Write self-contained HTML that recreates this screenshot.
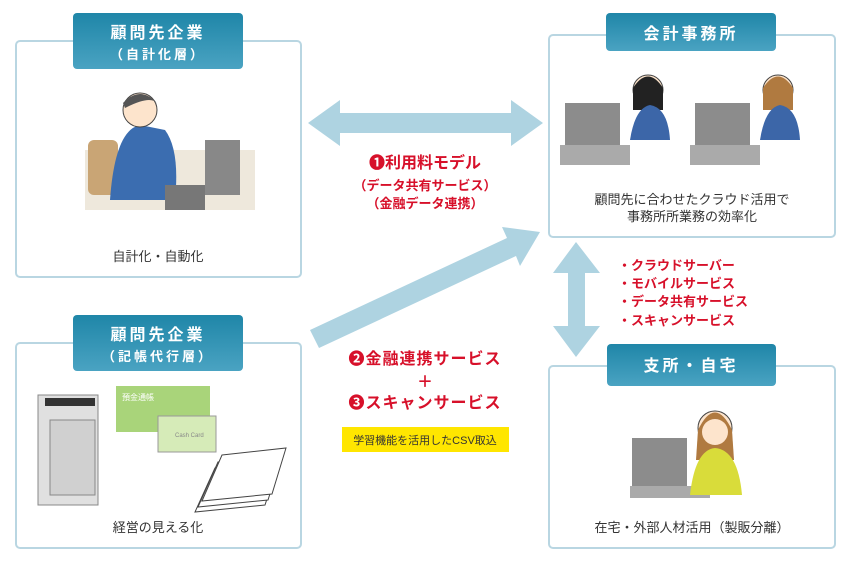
<!DOCTYPE html>
<html><head><meta charset="utf-8"><style>
body{margin:0;background:#fff;width:851px;height:561px;overflow:hidden;font-family:"Liberation Sans","Noto Sans CJK JP",sans-serif}
svg{display:block}
</style></head><body>
<svg width="851" height="561" viewBox="0 0 851 561" font-family="Liberation Sans, Noto Sans CJK JP, sans-serif">
<defs>
<linearGradient id="tab" x1="0" y1="0" x2="0" y2="1"><stop offset="0" stop-color="#1f86a8"/><stop offset="1" stop-color="#4aa3c2"/></linearGradient>
</defs>
<!-- boxes -->
<g fill="#fff" stroke="#b9d6e2" stroke-width="2">
<rect x="16" y="41" width="285" height="236" rx="4"/>
<rect x="549" y="35" width="286" height="202" rx="4"/>
<rect x="16" y="343" width="285" height="205" rx="4"/>
<rect x="549" y="366" width="286" height="182" rx="4"/>
</g>
<!-- arrows -->
<g fill="#aed3e1">
<polygon points="308,123 340,100 340,113 511,113 511,100 543,123 511,146 511,133 340,133 340,146"/>
<polygon points="553,273 576,242 600,273 585,273 585,326 600,326 576,357 553,326 568,326 568,273"/>
<polygon points="310,330 507,238 502,227 540,232 520,266 516,256 319,348"/>
</g>
<!-- tabs -->
<g>
<rect x="73" y="13" width="170" height="56" rx="4" fill="url(#tab)"/>
<rect x="606" y="13" width="170" height="38" rx="4" fill="url(#tab)"/>
<rect x="73" y="315" width="170" height="56" rx="4" fill="url(#tab)"/>
<rect x="607" y="344" width="169" height="42" rx="4" fill="url(#tab)"/>
</g>
<g fill="#fff" font-weight="bold" text-anchor="middle" letter-spacing="3">
<text x="158" y="38" font-size="16">顧問先企業</text>
<text x="158" y="59" font-size="13">（自計化層）</text>
<text x="691" y="39" font-size="16">会計事務所</text>
<text x="158" y="340" font-size="16">顧問先企業</text>
<text x="158" y="361" font-size="13">（記帳代行層）</text>
<text x="691" y="371" font-size="16">支所・自宅</text>
</g>
<!-- illustrations (simplified) -->
<g>
<rect x="85" y="150" width="170" height="60" fill="#eee8dc"/>
<rect x="88" y="140" width="30" height="55" rx="6" fill="#c9a575"/>
<path d="M110 200 Q115 130 140 125 L165 130 Q180 150 175 200Z" fill="#3b6db0"/>
<circle cx="140" cy="110" r="17" fill="#fde4cc" stroke="#444"/>
<path d="M123 103 Q140 85 157 103 Q150 95 125 108Z" fill="#555"/>
<rect x="205" y="140" width="35" height="55" fill="#888" transform="skew(-8,0)"/>
<rect x="165" y="185" width="40" height="25" fill="#777"/>
</g>
<g>
<rect x="565" y="103" width="55" height="42" fill="#8c8c8c"/><rect x="560" y="145" width="70" height="20" fill="#aaa"/>
<circle cx="648" cy="90" r="15" fill="#fde4cc" stroke="#444"/><path d="M633 88 Q648 65 663 88 L663 110 L633 110Z" fill="#222"/>
<path d="M630 140 Q635 108 650 105 Q668 108 670 140Z" fill="#3c66a8"/>
<rect x="695" y="103" width="55" height="42" fill="#8c8c8c"/><rect x="690" y="145" width="70" height="20" fill="#aaa"/>
<circle cx="778" cy="90" r="15" fill="#fde4cc" stroke="#444"/><path d="M763 88 Q778 65 793 88 L793 110 L763 110Z" fill="#b07a40"/>
<path d="M760 140 Q765 108 780 105 Q798 108 800 140Z" fill="#3c66a8"/>
</g>
<g>
<rect x="632" y="438" width="55" height="48" fill="#8c8c8c"/><rect x="630" y="486" width="80" height="12" fill="#aaa"/>
<circle cx="715" cy="428" r="17" fill="#fde4cc" stroke="#444"/><path d="M698 430 Q715 395 732 430 L734 460 L696 460Z" fill="#b07a40"/>
<circle cx="715" cy="432" r="13" fill="#fde4cc"/>
<path d="M690 495 Q695 450 715 448 Q738 450 742 495Z" fill="#d9dc3a"/>
</g>
<g>
<rect x="38" y="395" width="60" height="110" fill="#e0e0e0" stroke="#888"/>
<rect x="45" y="398" width="50" height="8" fill="#333"/>
<rect x="50" y="420" width="45" height="75" fill="#d0d0d0" stroke="#888"/>
<rect x="116" y="386" width="94" height="46" fill="#a9d47a"/>
<text x="122" y="400" font-size="8" fill="#fff">預金通帳</text>
<rect x="158" y="416" width="58" height="36" fill="#d6ebb8" stroke="#999"/>
<text x="175" y="437" font-size="6" fill="#888">Cash Card</text>
<g fill="#fff" stroke="#444"><polygon points="215,468 280,458 265,505 195,512"/><polygon points="218,462 283,452 268,500 198,507"/><polygon points="222,455 286,448 272,494 202,501"/></g>
</g>
<!-- texts -->
<g fill="#333" font-size="13" text-anchor="middle">
<text x="158" y="261">自計化・自動化</text>
<text x="692" y="204">顧問先に合わせたクラウド活用で</text>
<text x="692" y="221">事務所所業務の効率化</text>
<text x="158" y="532">経営の見える化</text>
<text x="692" y="532">在宅・外部人材活用（製販分離）</text>
</g>
<g fill="#d7102a" font-weight="bold" text-anchor="middle">
<text x="425" y="168" font-size="16">❶利用料モデル</text>
<text x="425" y="190" font-size="13">（データ共有サービス）</text>
<text x="425" y="208" font-size="13">（金融データ連携）</text>
<text x="425" y="364" font-size="16" letter-spacing="1">❷金融連携サービス</text>
<text x="425" y="387" font-size="16">＋</text>
<text x="425" y="408" font-size="16" letter-spacing="1">❸スキャンサービス</text>
</g>
<rect x="342" y="427" width="167" height="25" fill="#ffe600"/>
<text x="425" y="444" font-size="11" fill="#333" text-anchor="middle">学習機能を活用したCSV取込</text>
<g fill="#d7102a" font-weight="bold" font-size="13">
<text x="618" y="270">・クラウドサーバー</text>
<text x="618" y="288">・モバイルサービス</text>
<text x="618" y="306">・データ共有サービス</text>
<text x="618" y="325">・スキャンサービス</text>
</g>
</svg>
</body></html>
